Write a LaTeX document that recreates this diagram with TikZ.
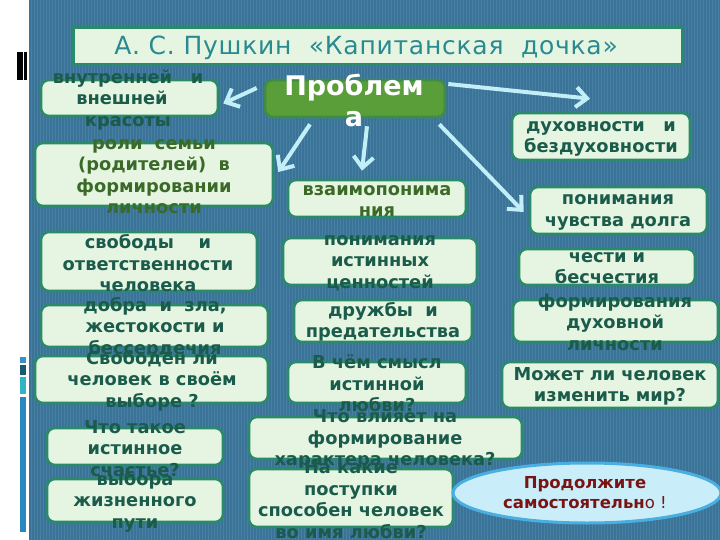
\documentclass[tikz,border=0pt]{standalone}
\usepackage{fontspec}
\setmainfont{DejaVu Sans}
\newfontfamily\titlefont[LetterSpace=3]{DejaVu Sans}
\usepackage{tikz}
\usetikzlibrary{arrows.meta,shapes.geometric}
\definecolor{bgblue}{HTML}{3A7397}
\definecolor{bgstripe}{HTML}{4680A3}
\definecolor{boxfill}{HTML}{E5F5E1}
\definecolor{boxline}{HTML}{2A8A6A}
\definecolor{txtdark}{HTML}{1B5B4B}
\definecolor{txtolive}{HTML}{3B6A28}
\definecolor{titletxt}{HTML}{2A8A90}
\definecolor{probfill}{HTML}{5A9E3A}
\definecolor{probline}{HTML}{3F8C4A}
\definecolor{arrcol}{HTML}{C2EEF7}
\definecolor{ovalfill}{HTML}{C9EEF9}
\definecolor{ovalline}{HTML}{4AAEE0}
\definecolor{ovaltxt}{HTML}{7A1414}
\definecolor{barA}{HTML}{3A90C8}
\definecolor{barB}{HTML}{1A5A70}
\definecolor{barC}{HTML}{30B5C5}
\definecolor{barD}{HTML}{2A88C0}

\begin{document}
\begin{tikzpicture}[x=1pt, y=-1pt,
  box/.style n args={2}{draw=boxline, fill=boxfill, line width=2.6pt, rounded corners=8pt, minimum width=#1pt, minimum height=#2pt, inner sep=0pt},
  txt/.style={font=\fontsize{17.8}{21.5}\selectfont\bfseries, text=txtdark, align=center, inner sep=0pt},
  arr/.style={draw=arrcol, line width=4pt, -{Straight Barb[length=11pt,width=20pt]}}]
\useasboundingbox (0,0) rectangle (720,540);
\fill[white] (0,0) rectangle (29,540);
\fill[bgblue] (29,0) rectangle (720,540);
\foreach \i in {31,34,...,720} \draw[bgstripe, line width=1pt] (\i,0) -- (\i,540);
\fill[black] (17,52) rectangle (23,80);
\fill[black] (24,52) rectangle (27,80);
\fill[barA] (20,357) rectangle (26,363);
\fill[barB] (20,365) rectangle (26,375);
\fill[barC] (20,377) rectangle (26,394);
\fill[barD] (20,397) rectangle (26,532);

\node[box={609}{37}, line width=3pt, rounded corners=0pt] (title) at (377.5,46.5) {};
\node[inner sep=0pt, font=\titlefont\fontsize{25}{28}\selectfont, text=titletxt] (titletext) at (366,48) {А. С. Пушкин~~«Капитанская~~дочка»};

\node[box={180}{37}, fill=probfill, draw=probline] (problem) at (355,98.5) {};
\node[txt, font=\fontsize{27}{31}\selectfont\bfseries, text=white] (problemtext) at (354,100) {Проблем\\а};

\node[box={177}{36}] (krasota) at (129.5,98) {};
\node[txt] (krasotatext) at (128,100) {внутренней~~~и\\внешней\kern12pt\\красоты};
\node[box={178}{47}] (duh) at (601,136.5) {};
\node[txt] (duhtext) at (601,139) {духовности~~~и\\бездуховности};
\node[box={238}{63}] (semya) at (154,174.5) {};
\node[txt, text=txtolive] (semyatext) at (154,176.5) {роли~ семьи\\(родителей)~ в\\формировании\\личности};
\node[box={178}{37}] (vzaim) at (377,198.5) {};
\node[txt, text=txtolive] (vzaimtext) at (377,201) {взаимопонима\\ния};
\node[box={177}{47}] (dolg) at (618.5,210.5) {};
\node[txt] (dolgtext) at (618,212.5) {понимания\\чувства долга};
\node[box={216}{59}] (svoboda) at (149,261.5) {};
\node[txt] (svobodatext) at (148,263.5) {свободы~~~~и\\ответственности\\человека};
\node[box={194}{47}] (cennost) at (380,261.5) {};
\node[txt] (cennosttext) at (380,263) {понимания\\истинных\\ценностей};
\node[box={176}{36}] (chest) at (607,267) {};
\node[txt] (chesttext) at (607,268) {чести и\\бесчестия};
\node[box={227}{42}] (dobro) at (154.5,326) {};
\node[txt] (dobrotext) at (155,327.5) {добра~ и~ зла,\\жестокости и\\бессердечия};
\node[box={178}{42}] (druzhba) at (383,321) {};
\node[txt] (druzhbatext) at (383,322) {дружбы~ и\\предательства};
\node[box={205}{42}] (formir) at (615.5,321) {};
\node[txt] (formirtext) at (615,322) {формирования\\духовной\\личности};
\node[box={233}{47}] (svoboden) at (151.5,379.5) {};
\node[txt] (svobodentext) at (152,380.5) {Свободен ли\\человек в своём\\выборе ?};
\node[box={178}{41}] (lyubov) at (377,382.5) {};
\node[txt] (lyubovtext) at (377,383.5) {В чём смысл\\истинной\\любви?};
\node[box={216}{46}] (mir) at (610,385) {};
\node[txt] (mirtext) at (610,386.5) {Может ли человек\\изменить мир?};
\node[box={176}{37}] (schastye) at (135,446.5) {};
\node[txt] (schastyetext) at (135,448.5) {Что такое\\истинное\\счастье?};
\node[box={273}{42}] (kharakter) at (385.5,438) {};
\node[txt] (kharaktertext) at (385,439.5) {Что влияет на\\формирование\\характера человека?};
\node[box={176}{43}] (put) at (135,500.5) {};
\node[txt] (puttext) at (135,501.5) {выбора\\жизненного\\пути};
\node[box={204}{58}] (postupki) at (351,498) {};
\node[txt] (postupkitext) at (351,499.5) {На какие\\поступки\\способен человек\\во имя любви?};

\node[ellipse, draw=ovalline, fill=ovalfill, line width=3pt, minimum width=268pt, minimum height=60pt, inner sep=0pt] (oval) at (587,493) {};
\node[txt, font=\fontsize{16.5}{20}\selectfont\bfseries, text=ovaltxt] (ovaltext) at (585,493) {Продолжите\\самостоятельн{\mdseries о !}};

\draw[arr] ([shift={(-7,-10.5)}]problem.west) -- ([shift={(4,5.5)}]krasota.east);
\draw[arr] ([shift={(2,-14.5)}]problem.east) -- ([shift={(-11,-13)}]duh.north);
\draw[arr] ([shift={(-45,6)}]problem.south) -- ([shift={(4,-2.5)}]semya.east);
\draw[arr] ([shift={(12,8)}]problem.south) -- ([shift={(-15,-8)}]vzaim.north);
\draw[arr] ([shift={(-7,6)}]problem.south east) -- ([shift={(-5,1.5)}]dolg.west);
\end{tikzpicture}
\end{document}
